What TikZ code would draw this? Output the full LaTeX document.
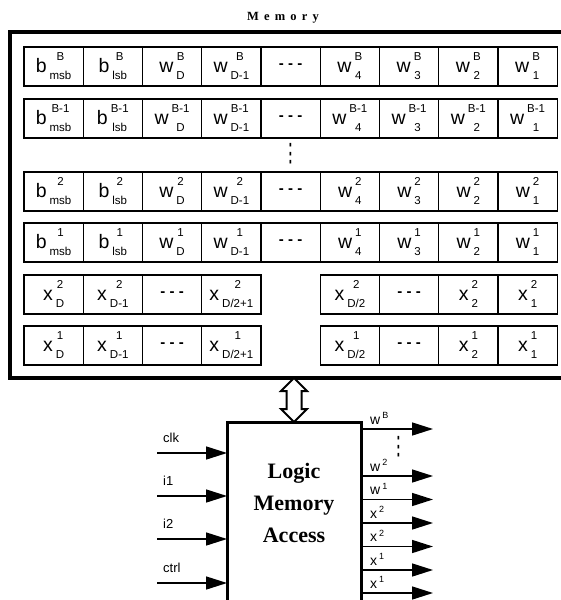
\documentclass[tikz,border=0pt]{standalone}
\usepackage{fontspec}
\setmainfont{Liberation Sans}
\newfontfamily\logicfont{Liberation Serif}
\usetikzlibrary{arrows.meta, positioning}

% base letter with stacked super/subscript, as in the memory cells
\newcommand{\cellsym}[3]{#1\hspace{3pt}\raisebox{3pt}{\fontsize{11.5}{19}\selectfont\begin{tabular}{@{}c@{}}#2\\#3\end{tabular}}}
\newcommand{\outsym}[2]{#1\hspace{2pt}\raisebox{5.5pt}{\fontsize{9}{9}\selectfont #2}}
\newcommand{\celldots}{- - -}

\begin{document}
\begin{tikzpicture}[x=1pt, y=-1pt,
    cell/.style={draw, line width=1.2pt, minimum width=59.25pt, minimum height=39pt, inner sep=0pt, outer sep=0pt, font=\fontsize{19.5}{19.5}\selectfont},
    dashcell/.style={cell, font=\fontsize{15}{15}\selectfont\bfseries},
    membox/.style={draw, line width=3.2pt, minimum width=565pt, minimum height=346pt, inner sep=0pt, outer sep=0pt, anchor=north west},
    logicbox/.style={draw, line width=3pt, minimum width=134pt, minimum height=200pt, inner sep=0pt, outer sep=0pt, anchor=north},
    logictext/.style={align=center, font=\logicfont\bfseries\fontsize{22}{32}\selectfont},
    bus/.style={draw, fill=white, line width=2pt, line join=miter},
    sig/.style={line width=1.5pt, -{Triangle[length=21pt, width=13pt]}},
    siglabel/.style={anchor=base west, inner sep=0pt, font=\fontsize{13}{13}\selectfont},
    outlabel/.style={siglabel, font=\fontsize{14}{14}\selectfont},
    vdots/.style={inner sep=0pt, font=\fontsize{14}{14}\selectfont\bfseries},
]
\clip (0,0) rectangle (561,600);

% memory
\node[anchor=base, font=\logicfont\bfseries\fontsize{12.5}{12.5}\selectfont] (memtitle) at (283,20)
    {M\kern5.2pt e\kern5.2pt m\kern5.2pt o\kern5.2pt r\kern5.2pt y};
\node[membox] (mem) at (10,32) {};

\foreach \s/\yc [count=\r] in {B/66.5, B-1/118.5, 2/191.5, 1/242.5} {
  \node[cell] (w\r-c1) at (53.6,\yc) {\cellsym{b}{\s}{msb}};
  \node[cell, right=0pt of w\r-c1] (w\r-c2) {\cellsym{b}{\s}{lsb}};
  \node[cell, right=0pt of w\r-c2] (w\r-c3) {\cellsym{w}{\s}{D}};
  \node[cell, right=0pt of w\r-c3] (w\r-c4) {\cellsym{w}{\s}{D-1}};
  \node[dashcell, right=0pt of w\r-c4] (w\r-c5) {\celldots};
  \node[cell, right=0pt of w\r-c5] (w\r-c6) {\cellsym{w}{\s}{4}};
  \node[cell, right=0pt of w\r-c6] (w\r-c7) {\cellsym{w}{\s}{3}};
  \node[cell, right=0pt of w\r-c7] (w\r-c8) {\cellsym{w}{\s}{2}};
  \node[cell, right=0pt of w\r-c8] (w\r-c9) {\cellsym{w}{\s}{1}};
}
\node[vdots] (rowdots) at (292,154) {\rotatebox{90}{\celldots}};

\foreach \s/\yc [count=\r] in {2/294.5, 1/345.5} {
  \node[cell] (x\r-c1) at (53.6,\yc) {\cellsym{x}{\s}{D}};
  \node[cell, right=0pt of x\r-c1] (x\r-c2) {\cellsym{x}{\s}{D-1}};
  \node[dashcell, right=0pt of x\r-c2] (x\r-c3) {\celldots};
  \node[cell, right=0pt of x\r-c3] (x\r-c4) {\cellsym{x}{\s}{D/2+1}};
  \node[cell] (x\r-c5) at (349.9,\yc) {\cellsym{x}{\s}{D/2}};
  \node[dashcell, right=0pt of x\r-c5] (x\r-c6) {\celldots};
  \node[cell, right=0pt of x\r-c6] (x\r-c7) {\cellsym{x}{\s}{2}};
  \node[cell, right=0pt of x\r-c7] (x\r-c8) {\cellsym{x}{\s}{1}};
}

% logic block
\node[logicbox] (lma) at (294,422) {};
\node[logictext] (lmatext) at (294,502.5) {Logic\\Memory\\Access};

% bus between memory and logic
\draw[bus] (lma.north |- mem.south) -- ++(-13,13) -- ++(5.5,0) -- ++(0,18) -- ++(-5.5,0)
    -- (lma.north) -- ++(13,-13) -- ++(-5.5,0) -- ++(0,-18) -- ++(5.5,0) -- cycle;

% inputs
\foreach \lab/\yy in {clk/453, i1/496, i2/539, ctrl/583} {
  \coordinate (in-\lab) at (157,\yy);
  \draw[sig] (in-\lab) -- (in-\lab -| lma.west);
  \node[siglabel] (lab-\lab) at (163,\yy-11) {\lab};
}

% outputs
\foreach \base/\s/\yy [count=\k] in {w/B/429, w/2/476, w/1/499.5, x/2/523, x/2/546.5, x/1/570, x/1/593} {
  \coordinate (out-\k) at (433,\yy);
  \draw[sig] (out-\k -| lma.east) -- (out-\k);
  \node[outlabel] (olab-\k) at (370,\yy-5) {\outsym{\base}{\s}};
}
\node[vdots] (outdots) at (400,447) {\rotatebox{90}{\celldots}};

\end{tikzpicture}
\end{document}
